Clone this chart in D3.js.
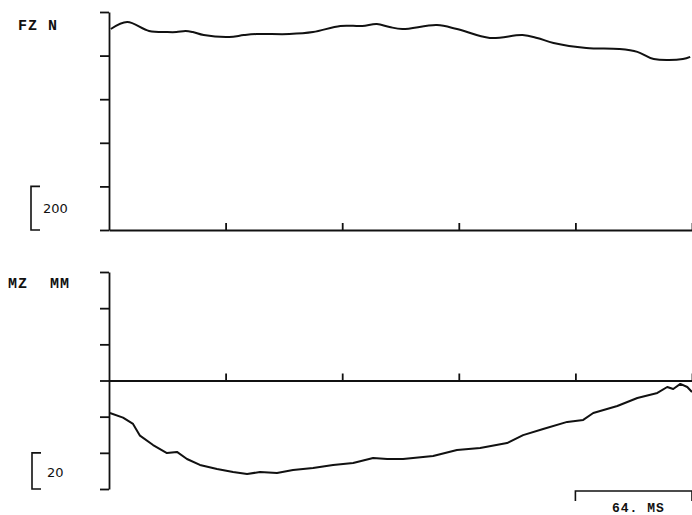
<!DOCTYPE html>
<html>
<head>
<meta charset="utf-8">
<script src="https://cdn.jsdelivr.net/npm/d3@7"></script>
<style>
  body { margin: 0; background: #fff; }
  svg { display: block; }
  .lbl { font-family: "Liberation Mono", "DejaVu Sans Mono", monospace; font-weight: bold; font-size: 15px; letter-spacing: 1px; fill: #111; }
  .scl { font-family: "DejaVu Sans", sans-serif; font-size: 13px; fill: #111; }
</style>
</head>
<body>
<div id="chart"></div>
<script>
// time in ms, force in N (FZ)
const fzTime = [1, 10, 22, 32, 37, 42, 46, 52, 66, 74, 81, 99, 112, 127, 139, 147, 154, 161, 180, 191, 209, 227, 235, 244, 262, 280, 290, 299, 315, 319];
const fzValues = [922, 954, 913, 908, 908, 913, 908, 894, 885, 894, 899, 899, 908, 936, 936, 945, 931, 922, 940, 922, 881, 894, 881, 858, 835, 830, 817, 784, 784, 794];

// time in ms, moment in N·mm (MZ)
const mzTime = [0.5, 7.7, 13.2, 17, 24.2, 31.8, 37.3, 42.8, 49.9, 59.3, 68.1, 75.8, 82.9, 92.2, 101, 112, 123, 134, 145, 152.7, 161.4, 177.9, 191, 203.7, 218.5, 227.3, 238.3, 251.5, 260.3, 265.8, 279, 290, 301, 306.4, 309.7, 313.6, 317.4, 320];
const mzValues = [-18, -20.5, -24, -30.5, -35.7, -40.1, -39.5, -43.4, -46.7, -48.9, -50.6, -51.7, -50.6, -51.2, -49.5, -48.4, -46.7, -45.6, -42.9, -43.4, -43.4, -41.8, -38.4, -37.3, -34.6, -30.2, -26.8, -22.9, -21.8, -18, -14.1, -9.7, -6.9, -3.6, -4.7, -1.9, -3.6, -6.4];

const xTicks = [64, 128, 192, 256, 320];
const fzTicks = [0, 200, 400, 600, 800, 1000];
const mzTicks = [-60, -40, -20, 0, 20, 40, 60];

const width = 692, height = 515;

const svg = d3.select("#chart").append("svg")
  .attr("width", width)
  .attr("height", height);

const x = d3.scaleLinear().domain([0, 320]).range([109, 692]);
const yF = d3.scaleLinear().domain([0, 1000]).range([230, 12]);
const yM = d3.scaleLinear().domain([-60, 60]).range([489, 272]);

function styleAxis(g) {
  g.selectAll("path, line").attr("stroke", "#111").attr("stroke-width", 1.8);
  g.selectAll("text").remove();
}

// top panel axes
svg.append("g")
  .attr("transform", `translate(${x(0)},0)`)
  .call(d3.axisLeft(yF).tickValues(fzTicks).tickSize(9).tickSizeOuter(0))
  .call(styleAxis);

svg.append("g")
  .attr("transform", `translate(0,${yF(0)})`)
  .call(d3.axisBottom(x).tickValues(xTicks).tickSizeInner(-7).tickSizeOuter(0))
  .call(styleAxis);

// bottom panel axes
svg.append("g")
  .attr("transform", `translate(${x(0)},0)`)
  .call(d3.axisLeft(yM).tickValues(mzTicks).tickSize(9).tickSizeOuter(0))
  .call(styleAxis);

svg.append("g")
  .attr("transform", `translate(0,${yM(0)})`)
  .call(d3.axisBottom(x).tickValues(xTicks).tickSizeInner(-7).tickSizeOuter(0))
  .call(styleAxis);

// curves
const fzLine = d3.line()
  .x((d, i) => x(fzTime[i]))
  .y(d => yF(d))
  .curve(d3.curveCatmullRom);

svg.append("path")
  .datum(fzValues)
  .attr("d", fzLine)
  .attr("fill", "none")
  .attr("stroke", "#111")
  .attr("stroke-width", 2);

const mzLine = d3.line()
  .x((d, i) => x(mzTime[i]))
  .y(d => yM(d))
  .curve(d3.curveLinear);

svg.append("path")
  .datum(mzValues)
  .attr("d", mzLine)
  .attr("fill", "none")
  .attr("stroke", "#111")
  .attr("stroke-width", 2)
  .attr("stroke-linejoin", "round");

// channel labels
svg.append("text").attr("class", "lbl").attr("x", 18).attr("y", 30).text("FZ N");
svg.append("text").attr("class", "lbl").attr("x", 8).attr("y", 288).text("MZ");
svg.append("text").attr("class", "lbl").attr("x", 50).attr("y", 288).text("MM");

// scale brackets
function vBracket(x0, y0, y1) {
  svg.append("path")
    .attr("d", `M${x0 + 9},${y0} H${x0} V${y1} H${x0 + 9}`)
    .attr("fill", "none")
    .attr("stroke", "#111")
    .attr("stroke-width", 1.6);
}
vBracket(31, yF(200), yF(0));
vBracket(32, yM(-40), yM(-60));

svg.append("text").attr("class", "scl").attr("x", 43).attr("y", 213).text("200");
svg.append("text").attr("class", "scl").attr("x", 47).attr("y", 477).text("20");

// time bracket
svg.append("path")
  .attr("d", `M${x(256)},501 V491 H${x(320)} V501`)
  .attr("fill", "none")
  .attr("stroke", "#111")
  .attr("stroke-width", 1.6);

svg.append("text")
  .attr("class", "lbl")
  .attr("x", 612)
  .attr("y", 512)
  .style("font-size", "13px")
  .style("letter-spacing", "1px")
  .text("64. MS");
</script>
</body>
</html>
